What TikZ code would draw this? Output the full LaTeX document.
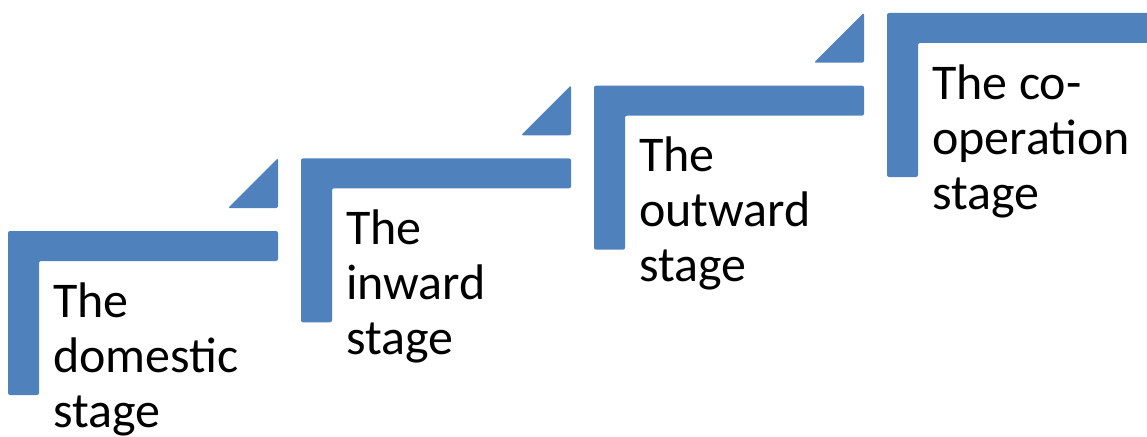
\documentclass[tikz,border=0pt]{standalone}
\usepackage{fontspec}
\setmainfont{Carlito}
\definecolor{stepblue}{HTML}{4F81BD}
\begin{document}
\begin{tikzpicture}[x=1pt,y=-1pt,
  cornerbar/.style={fill=stepblue,rounded corners=2pt},
  steptri/.style={fill=stepblue,rounded corners=2pt},
  steptext/.style={anchor=base west,inner sep=0pt,font=\fontsize{50}{55}\selectfont}]
\useasboundingbox (0,0) rectangle (1147,436);
\clip (0,0) rectangle (1147,436);
\newcommand\stepshape[4]{%
  \begin{scope}[shift={(#1,#2)}]
    \fill[cornerbar] (0,0) -- (270,0) -- (270,30) -- (31,30) -- (31,164) -- (0,164) -- cycle;
    \fill[steptri] (270,-73) -- (270,-23) -- (220,-23) -- cycle;
    \node[steptext] (#3) at (45,86) {\parbox[t]{300pt}{\raggedright #4}};
  \end{scope}}
\stepshape{8}{231}{domestic}{The\\domestic\\stage}
\stepshape{301}{158.3}{inward}{The\\inward\\stage}
\stepshape{594}{85.7}{outward}{The\\outward\\stage}
\stepshape{887}{13}{cooperation}{The co-\\operation\\stage}
\end{tikzpicture}
\end{document}
